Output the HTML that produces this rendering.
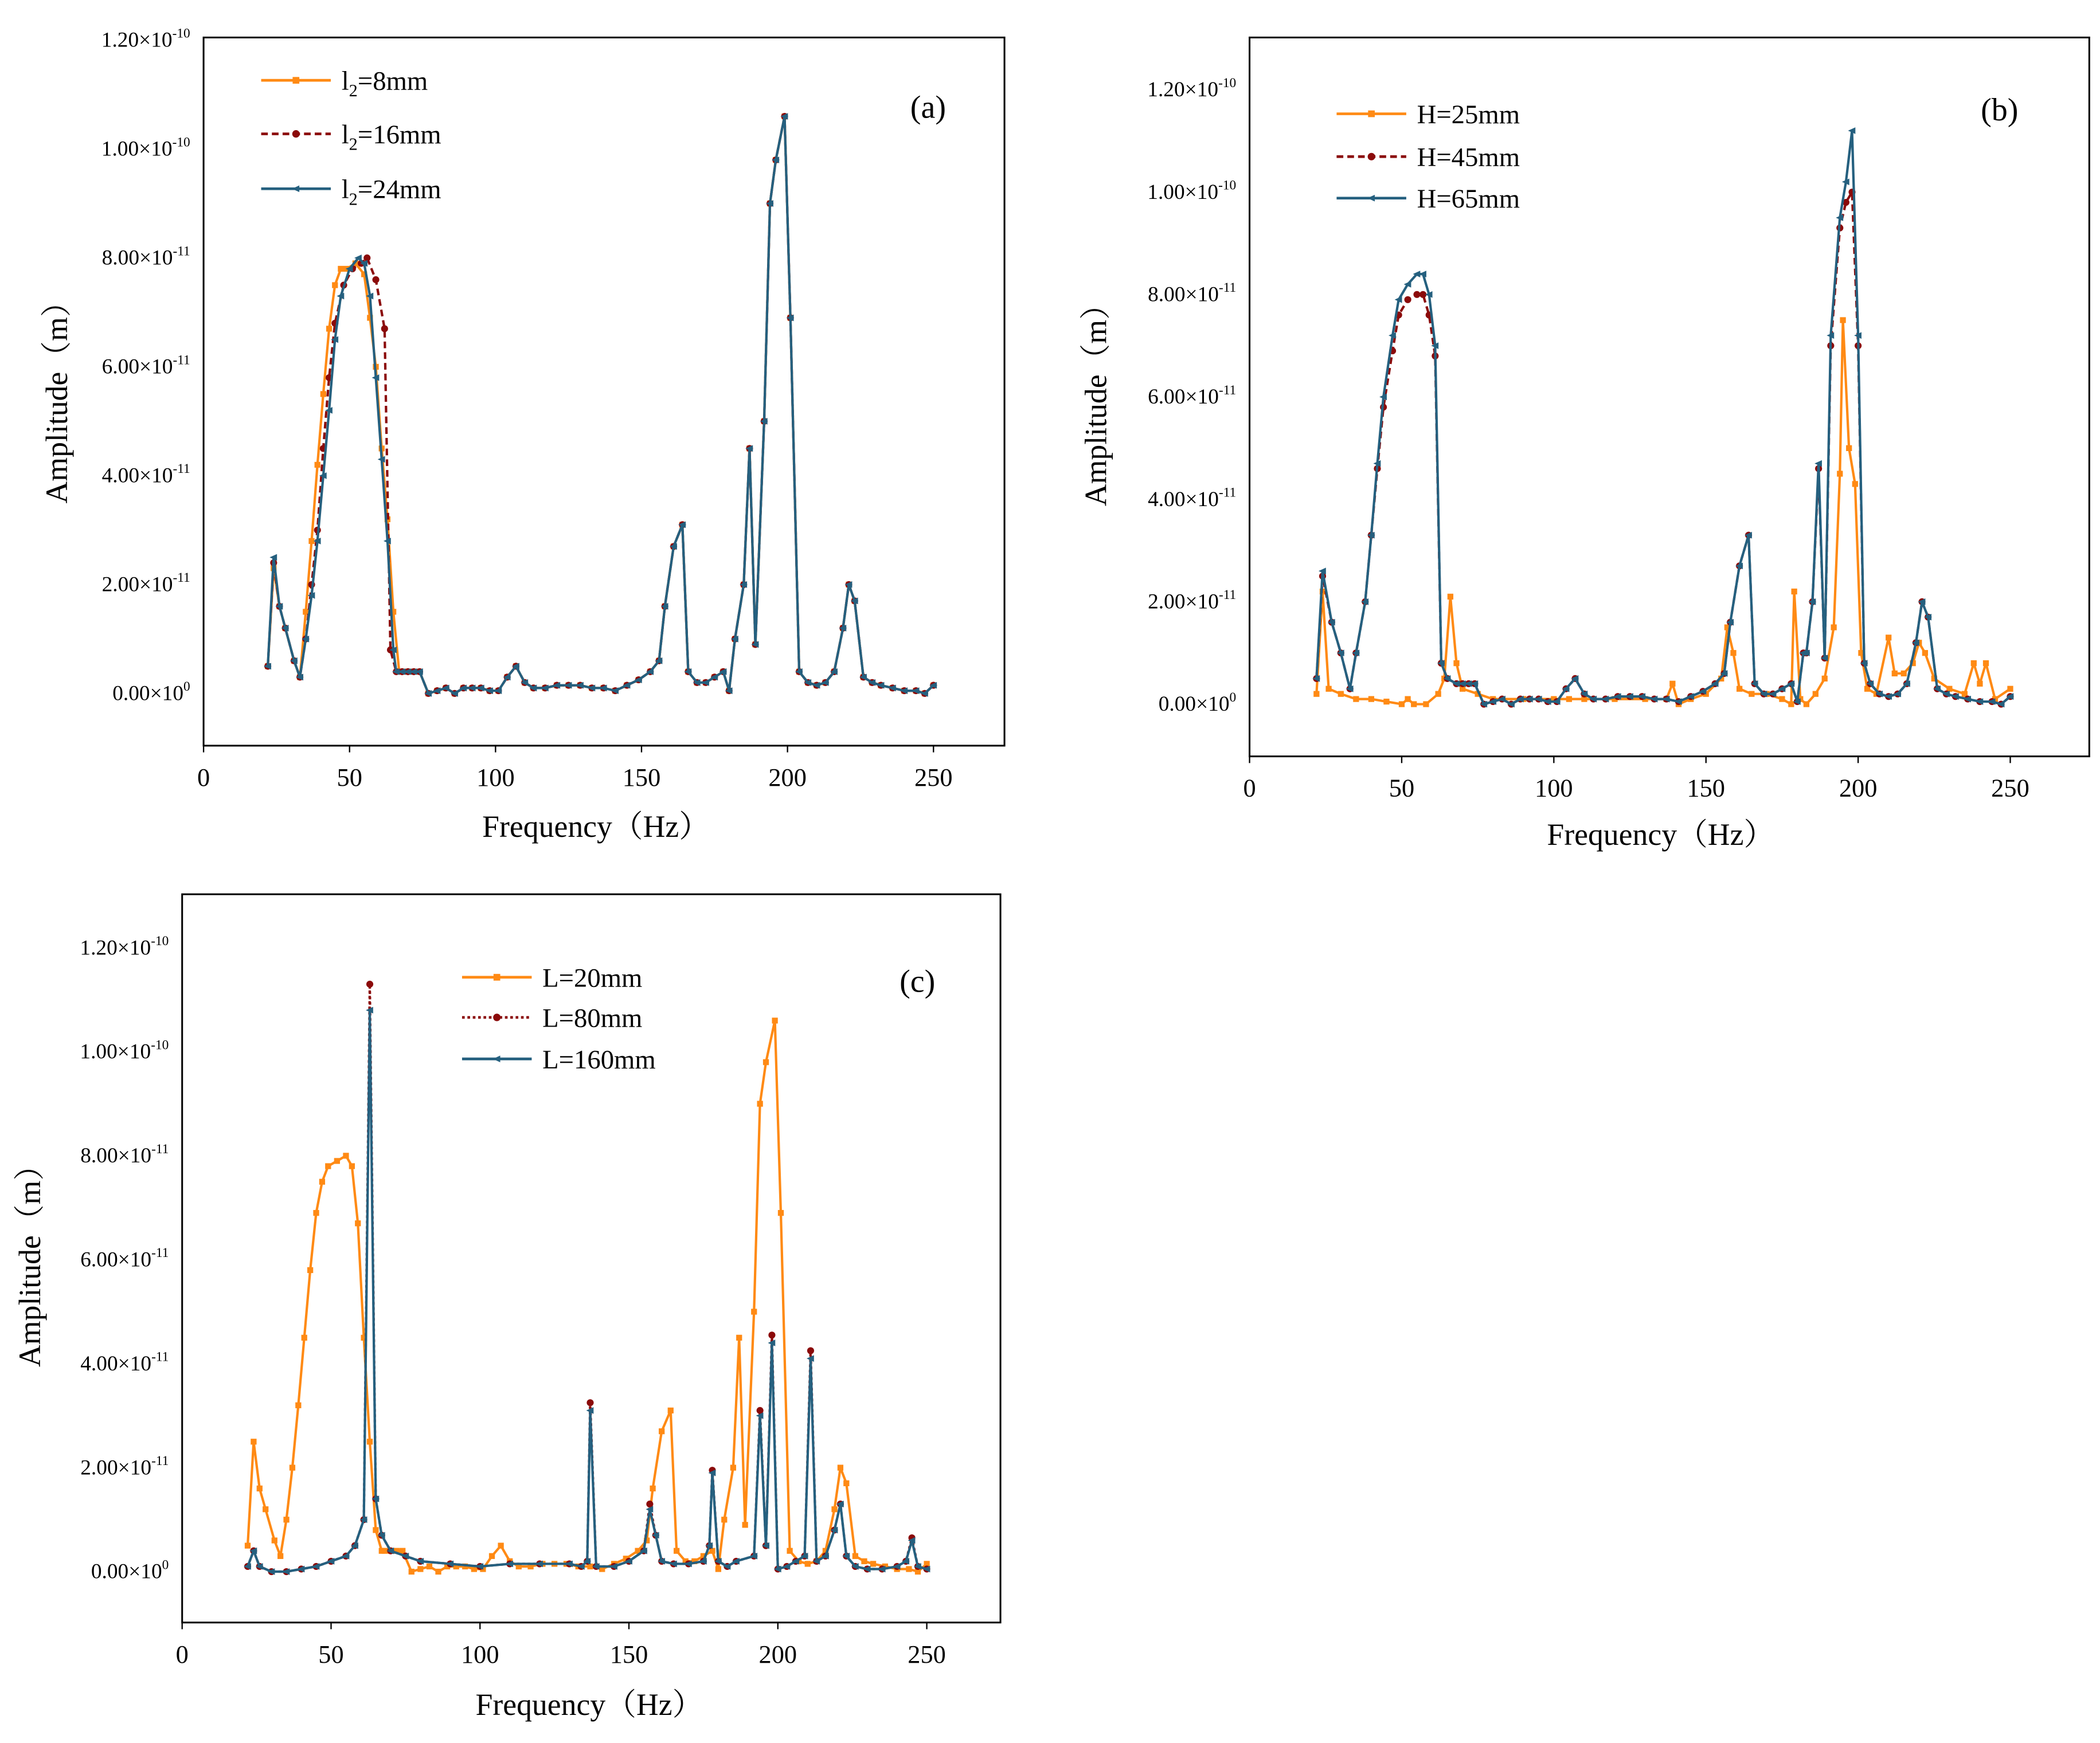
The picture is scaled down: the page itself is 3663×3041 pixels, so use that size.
<!DOCTYPE html>
<html><head><meta charset="utf-8">
<style>
html,body{margin:0;padding:0;background:#fff;}
svg{display:block;font-family:"Liberation Serif","Noto Serif CJK SC",serif;}
</style></head>
<body>
<svg id="fig" width="3663" height="3041" viewBox="0 0 1568 1302" preserveAspectRatio="none" xmlns="http://www.w3.org/2000/svg">
<rect width="1568" height="1302" fill="#fff"/>
</svg>
<script>
// ---------- data (amplitude in units of 1e-11 m) ----------
const tailFreq = [68,70,72,74,77,80,83,86,89,92,95,98,101,104,107,110,113,117,121,125,129,133,137,141,145,149,153,156,158,161,164,166,169,172,175,178,180,182,185,187,189,192,194,196,199,201,204,207,210,213,216,219,221,223,226,229,232,236,240,244,247,250];
const tailAmp  = [0.4,0.4,0.4,0.4,0.0,0.05,0.1,0.0,0.1,0.1,0.1,0.05,0.05,0.3,0.5,0.2,0.1,0.1,0.15,0.15,0.15,0.1,0.1,0.05,0.15,0.25,0.4,0.6,1.6,2.7,3.1,0.4,0.2,0.2,0.3,0.4,0.05,1.0,2.0,4.5,0.9,5.0,9.0,9.8,10.6,6.9,0.4,0.2,0.15,0.2,0.4,1.2,2.0,1.7,0.3,0.2,0.15,0.1,0.05,0.05,0.0,0.15];

const aOrangeFreq = [22,24,26,28,31,33,35,37,39,41,43,45,47,49,52,55,57,59,61,63,65,67];
const aOrangeAmp  = [0.5,2.3,1.6,1.2,0.6,0.3,1.5,2.8,4.2,5.5,6.7,7.5,7.8,7.8,7.9,7.7,6.9,6.0,4.5,3.2,1.5,0.4];
const aRedFreq = [22,24,26,28,31,33,35,37,39,41,43,45,48,51,54,56,59,62,64,66];
const aRedAmp  = [0.5,2.4,1.6,1.2,0.6,0.3,1.0,2.0,3.0,4.5,5.8,6.8,7.5,7.8,7.9,8.0,7.6,6.7,0.8,0.4];
const aTealFreq = [22,24,26,28,31,33,35,37,39,41,43,45,47,50,53,55,57,59,61,63,65,66];
const aTealAmp  = [0.5,2.5,1.6,1.2,0.6,0.3,1.0,1.8,2.8,4.0,5.2,6.5,7.3,7.8,8.0,7.9,7.3,5.8,4.3,2.8,0.8,0.4];

const bOrangeFreq = [22,24,26,30,35,40,45,50,52,54,58,62,64,66,68,70,75,80,90,100,105,110,120,130,137,139,141,145,150,155,157,159,161,165,170,175,178,179,181,183,186,189,192,194,195,197,199,201,203,206,210,212,215,218,220,222,225,230,235,238,240,242,245,250];
const bOrangeAmp  = [0.2,2.2,0.3,0.2,0.1,0.1,0.05,0.0,0.1,0.0,0.0,0.2,0.5,2.1,0.8,0.3,0.2,0.1,0.1,0.1,0.1,0.1,0.1,0.1,0.1,0.4,0.0,0.1,0.2,0.5,1.5,1.0,0.3,0.2,0.2,0.1,0.0,2.2,0.1,0.0,0.2,0.5,1.5,4.5,7.5,5.0,4.3,1.0,0.3,0.2,1.3,0.6,0.6,0.8,1.2,1.0,0.5,0.3,0.2,0.8,0.4,0.8,0.1,0.3];
const bTealHeadFreq = [22,24,27,30,33,35,38,40,42,44,47,49,52,55,57,59,61,63,65];
const bTealHeadAmp  = [0.5,2.6,1.6,1.0,0.3,1.0,2.0,3.3,4.7,6.0,7.2,7.9,8.2,8.4,8.4,8.0,7.0,0.8,0.5];
const bRedHeadAmp   = [0.5,2.5,1.6,1.0,0.3,1.0,2.0,3.3,4.6,5.8,6.9,7.6,7.9,8.0,8.0,7.6,6.8,0.8,0.5];
const bTealPeakFreq = [183,185,187,189,191,194,196,198,200,202];
const bTealPeakAmp  = [1.0,2.0,4.7,0.9,7.2,9.5,10.2,11.2,7.2,0.8];
const bRedPeakAmp   = [1.0,2.0,4.6,0.9,7.0,9.3,9.8,10.0,7.0,0.8];

const cOrangeFreq = [22,24,26,28,31,33,35,37,39,41,43,45,47,49,52,55,57,59,61,63,65,67];
const cOrangeAmp  = [0.5,2.5,1.6,1.2,0.6,0.3,1.0,2.0,3.2,4.5,5.8,6.9,7.5,7.8,7.9,8.0,7.8,6.7,4.5,2.5,0.8,0.4];
const cTealFreq = [22,24,26,30,35,40,45,50,55,58,61,63,65,67,70,75,80,90,100,110,120,130,134,136,137,139,145,150,155,157,159,161,165,170,175,177,178,180,183,186,192,194,196,198,200,203,206,209,211,213,216,219,221,223,226,230,235,240,243,245,247,250];
const cTealAmp  = [0.1,0.4,0.1,0.0,0.0,0.05,0.1,0.2,0.3,0.5,1.0,10.8,1.4,0.7,0.4,0.3,0.2,0.15,0.1,0.15,0.15,0.15,0.1,0.2,3.1,0.1,0.1,0.2,0.4,1.2,0.7,0.2,0.15,0.15,0.2,0.5,1.9,0.2,0.1,0.2,0.3,3.0,0.5,4.4,0.05,0.1,0.2,0.3,4.1,0.2,0.3,0.8,1.3,0.3,0.1,0.05,0.05,0.1,0.2,0.6,0.1,0.05];
const cRedAmp   = [0.1,0.4,0.1,0.0,0.0,0.05,0.1,0.2,0.3,0.5,1.0,11.3,1.4,0.7,0.4,0.3,0.2,0.15,0.1,0.15,0.15,0.15,0.1,0.2,3.25,0.1,0.1,0.2,0.4,1.3,0.7,0.2,0.15,0.15,0.2,0.5,1.95,0.2,0.1,0.2,0.3,3.1,0.5,4.55,0.05,0.1,0.2,0.3,4.25,0.2,0.3,0.8,1.3,0.3,0.1,0.05,0.05,0.1,0.2,0.65,0.1,0.05];

const xTicks = [0,50,100,150,200,250];
const yTicks = [0,2,4,6,8,10,12];
const yTickLabels = ["0.00×10","2.00×10","4.00×10","6.00×10","8.00×10","1.00×10","1.20×10"];
const yTickExps = ["0","-11","-11","-11","-11","-10","-10"];

// ---------- helpers ----------
const NS = "http://www.w3.org/2000/svg";
const svg = document.getElementById('fig');
function mk(tag, attrs, parent){
  const e = document.createElementNS(NS, tag);
  for (const k in attrs) e.setAttribute(k, attrs[k]);
  (parent||svg).appendChild(e);
  return e;
}
function join(f1,a1,f2,a2){ return {f:f1.concat(f2), a:a1.concat(a2)}; }

const ORANGE="#ff8a14", RED="#8b0a0a", TEAL="#25607f";

function panel(p){
  const g = mk('g',{});
  
  
  const X = v => p.x0 + (v/250)*(p.x250-p.x0);
  const Y = v => p.y0 + (v/12)*(p.y12-p.y0);
  const box = mk('rect',{x:p.bx0,y:p.by0,width:p.bx1-p.bx0,height:p.by1-p.by0,fill:'none',stroke:'#000','stroke-width':1.3},g);
  
  
  xTicks.forEach(t=>{
    const tk = mk('line',{x1:X(t),x2:X(t),y1:p.by1,y2:p.by1+5,stroke:'#000','stroke-width':1},g);
    
    
    const tx = mk('text',{x:X(t),y:p.by1+30,'text-anchor':'middle','font-size':19},g);
    tx.textContent = t;
    
    
  });
  yTicks.forEach((t,i)=>{
    const tx = mk('text',{x:p.bx0-10,y:Y(t)+5,'text-anchor':'end','font-size':16},g);
    tx.textContent = yTickLabels[i];
    const sup = mk('tspan',{dy:-7,'font-size':10},tx);
    sup.textContent = yTickExps[i];
    
    
  });
  const xt = mk('text',{x:p.xtx,y:p.xty,'text-anchor':'middle','font-size':23},g);
  xt.textContent = 'Frequency（Hz）';
  
  
  const yt = mk('text',{x:0,y:0,'text-anchor':'middle','font-size':23,transform:`translate(${p.ytx},${p.yty}) rotate(-90)`},g);
  yt.textContent = 'Amplitude（m）';
  
  
  const pl = mk('text',{x:p.lx,y:p.ly,'text-anchor':'middle','font-size':24},g);
  pl.textContent = '('+p.id+')';
  
  

  p.series.forEach((s,si)=>{
    const pts = s.f.map((f,i)=>[X(f),Y(s.a[i])]);
    const line = mk('polyline',{points:pts.map(q=>q.join(',')).join(' '),fill:'none',stroke:s.color,'stroke-width':s.w||1.8,'stroke-dasharray':s.dash||'none','stroke-linejoin':'round'},g);
    
    
    pts.forEach(q=>{
      let m;
      if (s.marker==='sq') m = mk('rect',{x:q[0]-2.2,y:q[1]-2.2,width:4.4,height:4.4,fill:s.color},g);
      else if (s.marker==='ci') m = mk('circle',{cx:q[0],cy:q[1],r:2.6,fill:s.color},g);
      else m = mk('polygon',{points:`${q[0]-3},${q[1]} ${q[0]+2.5},${q[1]-2.5} ${q[0]+2.5},${q[1]+2.5}`,fill:s.color},g);
      
      
    });
    // legend
    const ly = p.legY[si];
    const ll = mk('line',{x1:p.legX,x2:p.legX+52,y1:ly,y2:ly,stroke:s.color,'stroke-width':2,'stroke-dasharray':s.dash||'none'},g);
    
    
    const cx = p.legX+26;
    let lm;
    if (s.marker==='sq') lm = mk('rect',{x:cx-2.5,y:ly-2.5,width:5,height:5,fill:s.color},g);
    else if (s.marker==='ci') lm = mk('circle',{cx:cx,cy:ly,r:2.8,fill:s.color},g);
    else lm = mk('polygon',{points:`${cx-3},${ly} ${cx+2.5},${ly-2.5} ${cx+2.5},${ly+2.5}`,fill:s.color},g);
    
    
    const lt = mk('text',{x:p.legX+60,y:ly+7,'font-size':20},g);
    if (s.sub){
      lt.textContent = s.pre;
      const sb = mk('tspan',{dy:5,'font-size':13},lt); sb.textContent = s.sub;
      const rest = mk('tspan',{dy:-5},lt); rest.textContent = s.post;
    } else lt.textContent = s.label;
    
    
  });
}

const aO = join(aOrangeFreq,aOrangeAmp,tailFreq,tailAmp);
const aR = join(aRedFreq,aRedAmp,tailFreq,tailAmp);
const aT = join(aTealFreq,aTealAmp,tailFreq,tailAmp);
panel({id:'a',bx0:152,bx1:750,by0:28,by1:557,x0:152,x250:697,y0:518,y12:30,
  xtx:445,xty:625,ytx:50,yty:295,lx:693,ly:88,legX:195,legY:[60,100,141],
  series:[
    {key:'l2-8mm',f:aO.f,a:aO.a,color:ORANGE,marker:'sq',sub:'2',pre:'l',post:'=8mm'},
    {key:'l2-16mm',f:aR.f,a:aR.a,color:RED,marker:'ci',dash:'5,3',sub:'2',pre:'l',post:'=16mm'},
    {key:'l2-24mm',f:aT.f,a:aT.a,color:TEAL,marker:'tri',sub:'2',pre:'l',post:'=24mm'}]});

// panel b tails: base tail with modified main peak region
function bTail(peakAmp){
  const f=[],a=[];
  tailFreq.forEach((x,i)=>{ if(x<183||x>202){f.push(x);a.push(x===164?3.3:tailAmp[i]);} });
  const ins = f.findIndex(x=>x>202);
  return {f:f.slice(0,ins).concat(bTealPeakFreq,f.slice(ins)), a:a.slice(0,ins).concat(peakAmp,a.slice(ins))};
}
const bTt = bTail(bTealPeakAmp), bRt = bTail(bRedPeakAmp);
const bT = join(bTealHeadFreq,bTealHeadAmp,bTt.f,bTt.a);
const bR = join(bTealHeadFreq,bRedHeadAmp,bRt.f,bRt.a);
panel({id:'b',bx0:933,bx1:1560,by0:28,by1:565,x0:933,x250:1501,y0:526,y12:67,
  xtx:1240,xty:631,ytx:826,yty:297,lx:1493,ly:90,legX:998,legY:[85,117,148],
  series:[
    {key:'h-25mm',f:bOrangeFreq,a:bOrangeAmp,color:ORANGE,marker:'sq',label:'H=25mm'},
    {key:'h-45mm',f:bR.f,a:bR.a,color:RED,marker:'ci',dash:'5,3',label:'H=45mm'},
    {key:'h-65mm',f:bT.f,a:bT.a,color:TEAL,marker:'tri',label:'H=65mm'}]});

const cO = join(cOrangeFreq,cOrangeAmp,tailFreq,tailAmp);
panel({id:'c',bx0:136,bx1:747,by0:668,by1:1212,x0:136,x250:692,y0:1174,y12:708,
  xtx:440,xty:1281,ytx:30,yty:940,lx:685,ly:741,legX:345,legY:[730,760,791],
  series:[
    {key:'l-20mm',f:cO.f,a:cO.a,color:ORANGE,marker:'sq',label:'L=20mm'},
    {key:'l-80mm',f:cTealFreq,a:cRedAmp,color:RED,marker:'ci',dash:'2,2',label:'L=80mm'},
    {key:'l-160mm',f:cTealFreq,a:cTealAmp,color:TEAL,marker:'tri',label:'L=160mm'}]});
</script>
</body></html>
